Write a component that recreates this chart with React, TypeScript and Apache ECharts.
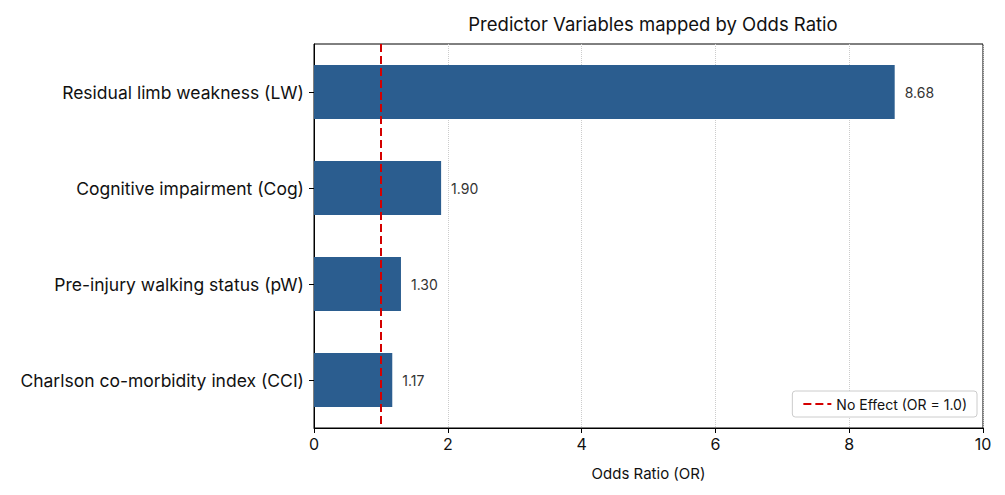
import { useEffect, useRef } from "react";
import * as echarts from "echarts";

const categories = [
  "Residual limb weakness (LW)",
  "Cognitive impairment (Cog)",
  "Pre-injury walking status (pW)",
  "Charlson co-morbidity index (CCI)",
];
const oddsRatios = [8.68, 1.9, 1.3, 1.17];
const noEffect = 1.0;

const FONT = "Inter, 'Noto Sans', sans-serif";

export default function App() {
  const ref = useRef<HTMLDivElement | null>(null);

  useEffect(() => {
    if (!ref.current) return;
    const chart = echarts.init(ref.current, undefined, { renderer: "svg" });

    const option: echarts.EChartsOption = {
      animation: false,
      backgroundColor: "#fff",
      textStyle: { fontFamily: FONT },
      title: {
        text: "Predictor Variables mapped by Odds Ratio",
        left: 640,
        top: 1,
        textAlign: "center",
        textStyle: { fontSize: 18.5, fontWeight: "normal", color: "#111", fontFamily: FONT },
      },
      grid: {
        left: 306,
        right: 14,
        top: 36,
        bottom: 59,
        show: true,
        borderColor: "#000",
        borderWidth: 1,
        backgroundColor: "transparent",
      },
      legend: {
        right: 20,
        bottom: 70,
        data: ["No Effect (OR = 1.0)"],
        itemWidth: 28,
        itemHeight: 10,
        itemStyle: { opacity: 0 },
        borderColor: "#ccc",
        borderWidth: 1,
        borderRadius: 3,
        padding: [6, 10],
        backgroundColor: "#fff",
        textStyle: { fontSize: 14, color: "#111", fontFamily: FONT },
      },
      xAxis: {
        type: "value",
        min: 0,
        max: 10,
        interval: 2,
        name: "Odds Ratio (OR)",
        nameLocation: "middle",
        nameGap: 38,
        nameTextStyle: { fontSize: 15, color: "#111" },
        axisLine: { show: true, lineStyle: { color: "#000" } },
        axisTick: { show: true, length: 5, lineStyle: { color: "#000" } },
        axisLabel: { fontSize: 16, color: "#111", margin: 8 },
        splitLine: { show: true, lineStyle: { color: "#ccc", type: "dotted" } },
      },
      yAxis: {
        type: "category",
        data: categories,
        inverse: true,
        axisLine: { show: true, lineStyle: { color: "#000" } },
        axisTick: { show: true, length: 5, alignWithLabel: true, lineStyle: { color: "#000" } },
        axisLabel: { fontSize: 17.5, color: "#111", margin: 10 },
        splitLine: { show: false },
      },
      series: [
        {
          type: "bar",
          data: oddsRatios,
          barWidth: "56%",
          itemStyle: { color: "#2b5d8f" },
          label: {
            show: true,
            position: "right",
            distance: 10,
            formatter: (p: any) => Number(p.value).toFixed(2),
            fontSize: 14,
            color: "#333",
          },
          z: 2,
        },
        {
          type: "line",
          name: "No Effect (OR = 1.0)",
          data: [],
          symbol: "none",
          lineStyle: { type: "dashed", color: "#d40000", width: 2 },
          itemStyle: { color: "#d40000" },
          markLine: {
            silent: true,
            symbol: "none",
            label: { show: false },
            lineStyle: { type: "dashed", color: "#d40000", width: 2 },
            data: [{ xAxis: noEffect }],
          },
          z: 5,
        },
      ],
    };

    chart.setOption(option);
    return () => chart.dispose();
  }, []);

  return <div ref={ref} style={{ width: 989, height: 479 }} />;
}
